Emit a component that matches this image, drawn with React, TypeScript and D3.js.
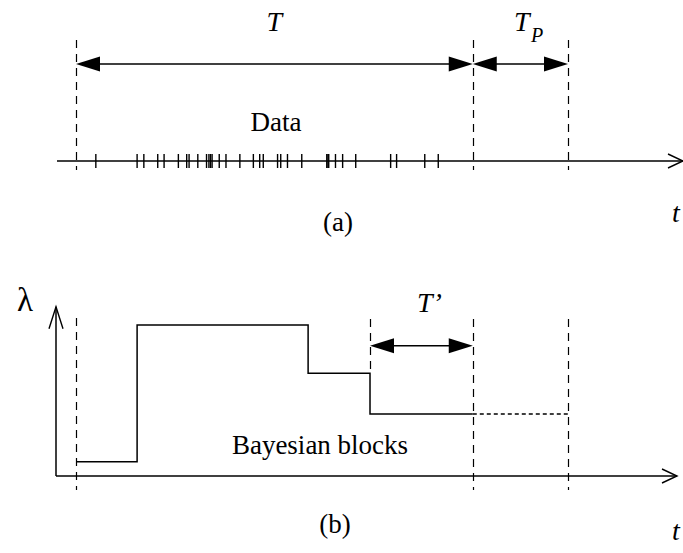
import React from "react";
import * as d3 from "d3";

// Photon arrival times within the observation interval T (same units as the time axis)
const eventTimes = [
  5.0, 15.4, 17.1, 20.6, 22.2, 25.8, 27.9, 28.5, 30.7, 32.9, 33.5, 33.9, 34.3,
  36.1, 37.8, 41.3, 44.7, 46.3, 47.2, 50.8, 51.6, 53.3, 56.9, 63.2, 63.5, 63.7,
  65.4, 67.2, 70.5, 79.3, 80.8, 87.9, 91.3,
];

// Interval bounds: observation start, end of T, end of the prediction span T_P
const observationStart = 0;
const observationEnd = 100;
const predictionEnd = 124;

// Bayesian block edges (start of each block) and their rates
const blockStarts = [0, 15.4, 58.5, 74.1];
const blockRates = [0.143, 1.51, 1.027, 0.62];

const WIDTH = 683;
const HEIGHT = 553;
const FONT = "'Liberation Serif', 'Times New Roman', serif";
const STROKE = "#000";

const x = d3.scaleLinear().domain([observationStart, predictionEnd]).range([76, 568]);
const yRate = d3.scaleLinear().domain([0, 1.7]).range([476, 306]);

// Panel (a) geometry
const axisAY = 161;
const tickHalf = 7;
const arrowAY = 64;

// Panel (b) geometry
const axisBY = yRate(0);
const arrowBY = 345.7;

function FilledHead({ tipX, y, dir }: { tipX: number; y: number; dir: 1 | -1 }) {
  const len = 24;
  const half = 7.5;
  const pts = [
    [tipX, y],
    [tipX - dir * len, y - half],
    [tipX - dir * len, y + half],
  ];
  return <polygon points={pts.map((p) => p.join(",")).join(" ")} fill={STROKE} />;
}

function DoubleArrow({ x1, x2, y }: { x1: number; x2: number; y: number }) {
  return (
    <g>
      <line x1={x1 + 10} x2={x2 - 10} y1={y} y2={y} stroke={STROKE} strokeWidth={1.5} />
      <FilledHead tipX={x1} y={y} dir={-1} />
      <FilledHead tipX={x2} y={y} dir={1} />
    </g>
  );
}

function OpenHead({ tx, ty, angle, len, half }: { tx: number; ty: number; angle: number; len: number; half: number }) {
  const ca = Math.cos(angle);
  const sa = Math.sin(angle);
  const bx = tx - ca * len;
  const by = ty - sa * len;
  const p1 = [bx - sa * half, by + ca * half];
  const p2 = [bx + sa * half, by - ca * half];
  return (
    <polyline
      points={`${p1.join(",")} ${tx},${ty} ${p2.join(",")}`}
      fill="none"
      stroke={STROKE}
      strokeWidth={1.4}
    />
  );
}

function DashedV({ t, y1, y2 }: { t: number; y1: number; y2: number }) {
  return (
    <line
      x1={Math.round(x(t)) + 0.5}
      x2={Math.round(x(t)) + 0.5}
      y1={y1}
      y2={y2}
      stroke={STROKE}
      strokeWidth={1.2}
      strokeDasharray="8,6"
    />
  );
}

export default function App() {
  const stepPoints: [number, number][] = blockStarts.map((s, i) => [s, blockRates[i]]);
  stepPoints.push([observationEnd, blockRates[blockRates.length - 1]]);
  const stepLine = d3
    .line<[number, number]>()
    .x((d) => x(d[0]))
    .y((d) => yRate(d[1]))
    .curve(d3.curveStepAfter);

  const lastRate = blockRates[blockRates.length - 1];
  const lastStart = blockStarts[blockStarts.length - 1];

  const axisAStart = 57;
  const axisAEnd = 683;
  const axisBStart = 56;
  const axisBEnd = 677;

  return (
    <svg
      width={WIDTH}
      height={HEIGHT}
      style={{ position: "absolute", left: 0, top: 0, background: "#fff" }}
      fontFamily={FONT}
    >
      {/* Panel (a): event data on the time axis */}
      {[observationStart, observationEnd, predictionEnd].map((t) => (
        <DashedV key={`da${t}`} t={t} y1={40} y2={170} />
      ))}
      <line x1={axisAStart} x2={axisAEnd} y1={axisAY} y2={axisAY} stroke={STROKE} strokeWidth={1.5} />
      <OpenHead tx={axisAEnd} ty={axisAY} angle={0} len={15} half={7} />
      {eventTimes.map((t, i) => (
        <line
          key={`ev${i}`}
          x1={x(t)}
          x2={x(t)}
          y1={axisAY - tickHalf}
          y2={axisAY + tickHalf}
          stroke={STROKE}
          strokeWidth={1.4}
        />
      ))}
      <DoubleArrow x1={x(observationStart)} x2={x(observationEnd)} y={arrowAY} />
      <DoubleArrow x1={x(observationEnd)} x2={x(predictionEnd)} y={arrowAY} />
      <text x={(x(observationStart) + x(observationEnd)) / 2} y={31} fontSize={28} fontStyle="italic" textAnchor="middle">
        T
      </text>
      <text x={514} y={31} fontSize={28} fontStyle="italic">T</text>
      <text x={531} y={42} fontSize={20} fontStyle="italic">P</text>
      <text x={276} y={131} fontSize={27} textAnchor="middle">Data</text>
      <text x={338} y={231} fontSize={27} textAnchor="middle">(a)</text>
      <text x={676} y={222} fontSize={28} fontStyle="italic" textAnchor="middle">t</text>

      {/* Panel (b): Bayesian block representation of the rate */}
      <line x1={axisBStart} x2={axisBStart} y1={axisBY} y2={306.7} stroke={STROKE} strokeWidth={1.5} />
      <OpenHead tx={axisBStart} ty={306.7} angle={-Math.PI / 2} len={22} half={7} />
      <line x1={axisBStart} x2={axisBEnd} y1={axisBY} y2={axisBY} stroke={STROKE} strokeWidth={1.5} />
      <OpenHead tx={axisBEnd} ty={axisBY} angle={0} len={15} half={7} />
      <DashedV t={observationStart} y1={318} y2={490} />
      <DashedV t={lastStart} y1={319} y2={yRate(blockRates[2])} />
      <DashedV t={observationEnd} y1={319} y2={490} />
      <DashedV t={predictionEnd} y1={319} y2={490} />
      <path d={stepLine(stepPoints) ?? ""} fill="none" stroke={STROKE} strokeWidth={1.5} />
      <line
        x1={x(observationEnd)}
        x2={x(predictionEnd)}
        y1={yRate(lastRate)}
        y2={yRate(lastRate)}
        stroke={STROKE}
        strokeWidth={1.3}
        strokeDasharray="4,3"
      />
      <DoubleArrow x1={x(lastStart)} x2={x(observationEnd)} y={arrowBY} />
      <text x={(x(lastStart) + x(observationEnd)) / 2 + 8} y={312} fontSize={28} fontStyle="italic" textAnchor="middle">
        T’
      </text>
      <text x={25} y={311} fontSize={33} textAnchor="middle">λ</text>
      <text x={320} y={454} fontSize={27} textAnchor="middle">Bayesian blocks</text>
      <text x={335} y={533} fontSize={27} textAnchor="middle">(b)</text>
      <text x={676} y={540} fontSize={28} fontStyle="italic" textAnchor="middle">t</text>
    </svg>
  );
}
